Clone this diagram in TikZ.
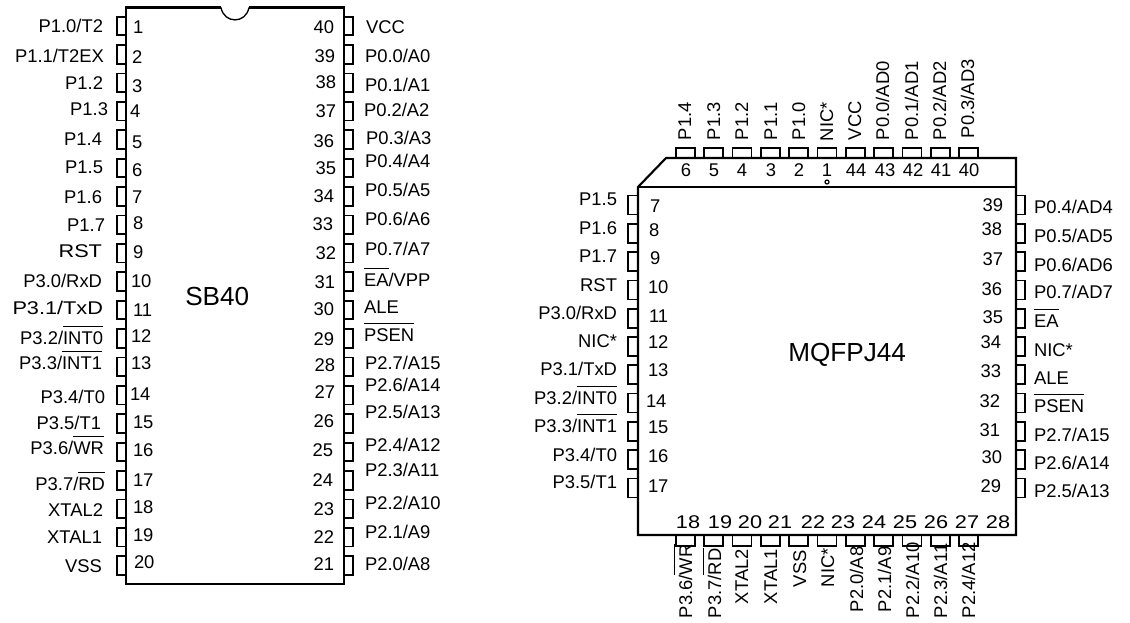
\documentclass[tikz,border=0pt]{standalone}
\usepackage{fontspec}
\setmainfont{Liberation Sans}
\newfontfamily\widefont[FakeStretch=1.18]{Liberation Sans}
\newsavebox{\ovlbox}
\newcommand{\ovl}[1]{\sbox{\ovlbox}{#1}\rlap{\rule[0.95em]{\wd\ovlbox}{0.55pt}}\usebox{\ovlbox}}
\tikzset{
  outline/.style={line width=1.6pt,line join=miter},
  pinbox/.style={line width=1.25pt,line join=miter},
  lbl/.style={inner sep=0pt,outer sep=0pt,font=\fontsize{13.8pt}{15pt}\selectfont},
  labE/.style={lbl,anchor=base east},
  labW/.style={lbl,anchor=base west},
  labC/.style={lbl,anchor=base},
  labV/.style={lbl,anchor=base west,rotate=90},
  title/.style={inner sep=0pt,anchor=base west,font=\fontsize{19.6pt}{22pt}\selectfont}
}
\begin{document}
\begin{tikzpicture}[x=0.75pt,y=-0.75pt]
\useasboundingbox (0,0) rectangle (1130,622);
\fill[white] (0,0) rectangle (1130,622);
% ---------- SB40 ----------
\draw[outline] (221,7.5) -- (126,7.5) -- (126,584) -- (344,584) -- (344,7.5) -- (249,7.5);
\draw[line width=1pt] (221,7.5) .. controls (224,24) and (246,24) .. (249,7.5);
\foreach \i in {0,...,19}{
  \pgfmathsetmacro\c{26+28.4*\i}
  \draw[pinbox] (126,\c-9.3) -- (117,\c-9.3) -- (117,\c+9.3) -- (126,\c+9.3);
  \draw[pinbox] (344,\c-9.3) -- (353,\c-9.3) -- (353,\c+9.3) -- (344,\c+9.3);
}
\node[title] (sb) at (185,305) {SB40};
\foreach \t/\x/\y [count=\n] in {
 {P1.0/T2}/103/32.7,{P1.1/T2EX}/104/62.7,{P1.2}/103/89.3,{P1.3}/108/115.7,{P1.4}/102/145,
 {P1.5}/103/173,{P1.6}/102/203,{P1.7}/105/231,{\widefont RST}/102/257,{P3.0/RxD}/102/287,
 {\widefont P3.1/TxD}/103/314,{P3.2/\ovl{INT0}}/103/344,{P3.3/\ovl{INT1}}/102/369,{P3.4/T0}/105/403,{P3.5/T1}/101/429,
 {P3.6/\ovl{WR}}/104/454,{P3.7/\ovl{RD}}/105/490,{XTAL2}/103/516,{XTAL1}/102/543,{VSS}/102/572}
  \node[labE] (sl\n) at (\x,\y) {\t};
\foreach \x/\y [count=\n] in {
 133/33,132/63,132/92,130/117,132/148,132/176,132/203,133/229,133/258,131/287,
 133/316,131/342,131/369,130/400,133/428,133/456,133/486,133/513,133/541,134/568}
  \node[labW] (sn\n) at (\x,\y) {\n};
\foreach \m/\x/\y in {
 40/334/33,39/335/62,38/336/88,37/336/117,36/334/147,35/336/174,34/334/202,33/333/230,32/336/259,31/335/288,
 30/334/315,29/334/345,28/335/371,27/335/398,26/334/427,25/333/456,24/333/486,23/334/515,22/334/543,21/334/570}
  \node[labE] (sn\m) at (\x,\y) {\m};
\foreach \t/\x/\y [count=\n] in {
 {VCC}/366/33,{P0.0/A0}/365/62,{P0.1/A1}/365/91,{P0.2/A2}/364/116,{P0.3/A3}/366/144,
 {P0.4/A4}/365/167,{P0.5/A5}/365/196,{P0.6/A6}/365/225,{P0.7/A7}/365/255,{\ovl{EA}/VPP}/364/286,
 {ALE}/364/313,{\ovl{PSEN}}/364/341,{P2.7/A15}/365/369,{P2.6/A14}/365/391,{P2.5/A13}/365/418,
 {P2.4/A12}/365/451,{P2.3/A11}/365/476,{P2.2/A10}/365/509,{P2.1/A9}/365/538,{P2.0/A8}/365/570}
  \node[labW] (sr\n) at (\x,\y) {\t};
% ---------- MQFPJ44 ----------
\draw[outline] (666,158) -- (1016,158) -- (1016,535) -- (638,535) -- (638,187) -- cycle;
\draw[outline] (638,187) -- (1016,187);
\foreach \i in {0,...,10}{
  \pgfmathsetmacro\c{685.5+28.3*\i}
  \draw[pinbox] (\c-9.5,158) -- (\c-9.5,148) -- (\c+9.5,148) -- (\c+9.5,158);
  \draw[pinbox] (\c-9.5,535) -- (\c-9.5,546) -- (\c+9.5,546) -- (\c+9.5,535);
  \pgfmathsetmacro\d{205+28.3*\i}
  \draw[pinbox] (638,\d-9.5) -- (628,\d-9.5) -- (628,\d+9.5) -- (638,\d+9.5);
  \draw[pinbox] (1016,\d-9.5) -- (1025,\d-9.5) -- (1025,\d+9.5) -- (1016,\d+9.5);
}
\draw[line width=0.9pt] (827,182) circle (2);
\node[title] (mq) at (788,361) {MQFPJ44};
% top
\foreach \m/\x in {6/686,5/714,4/742,3/771,2/799,1/827,44/856,43/885,42/913,41/941,40/969}
  \node[labC] (tn\m) at (\x,176) {\m};
\foreach \t/\x/\y [count=\n] in {
 {P1.4}/691/140,{P1.3}/720/140,{P1.2}/748/140,{P1.1}/777/140,{P1.0}/805/140,{NIC*}/833/141,
 {VCC}/861/140,{P0.0/AD0}/889/140,{P0.1/AD1}/918/140,{P0.2/AD2}/946/140,{P0.3/AD3}/974/138}
  \node[labV] (tl\n) at (\x,\y) {\t};
% bottom
\foreach \m/\x in {18/688,19/720,20/750,21/780,22/813,23/843,24/874,25/905,26/936,27/967,28/998}
  \node[labC] (bn\m) at (\x,528) {\widefont\m};
\foreach \t/\x/\y [count=\n] in {
 {P3.6/\ovl{WR}}/692/618,{P3.7/\ovl{RD}}/721/618,{XTAL2}/748/604,{XTAL1}/777/604,{VSS}/806/587,{NIC*}/834/587,
 {P2.0/A8}/863/612,{P2.1/A9}/891/612,{P2.2/A10}/919/618,{P2.3/A11}/947/618,{P2.4/A12}/975/618}
  \node[labV] (bl\n) at (\x,\y) {\t};
% left
\foreach \m/\x/\y in {7/650/212,8/649/236,9/650/264,10/648/293,11/649/322,12/648/348,13/648/376,14/646/407,15/648/433,16/648/462,17/648/492}
  \node[labW] (ln\m) at (\x,\y) {\m};
\foreach \t/\y [count=\n] in {
 {P1.5}/205,{P1.6}/234,{P1.7}/262,{RST}/291,{P3.0/RxD}/319,{NIC*}/347,{P3.1/TxD}/375,
 {P3.2/\ovl{INT0}}/404,{P3.3/\ovl{INT1}}/432,{P3.4/T0}/461,{P3.5/T1}/488}
  \node[labE] (ll\n) at (617,\y) {\t};
% right
\foreach \m/\x/\y in {39/1003/211,38/1002/235,37/1003/265,36/1002/295,35/1003/323,34/1001/348,33/1001/377,32/1000/407,31/1000/436,30/1002/463,29/1001/492}
  \node[labE] (rn\m) at (\x,\y) {\m};
\foreach \t/\y [count=\n] in {
 {P0.4/AD4}/213,{P0.5/AD5}/242,{P0.6/AD6}/271,{P0.7/AD7}/298,{\ovl{EA}}/327,{NIC*}/356,{ALE}/384,
 {\ovl{PSEN}}/412,{P2.7/A15}/441,{P2.6/A14}/469,{P2.5/A13}/497}
  \node[labW] (rl\n) at (1034,\y) {\t};
\end{tikzpicture}
\end{document}
